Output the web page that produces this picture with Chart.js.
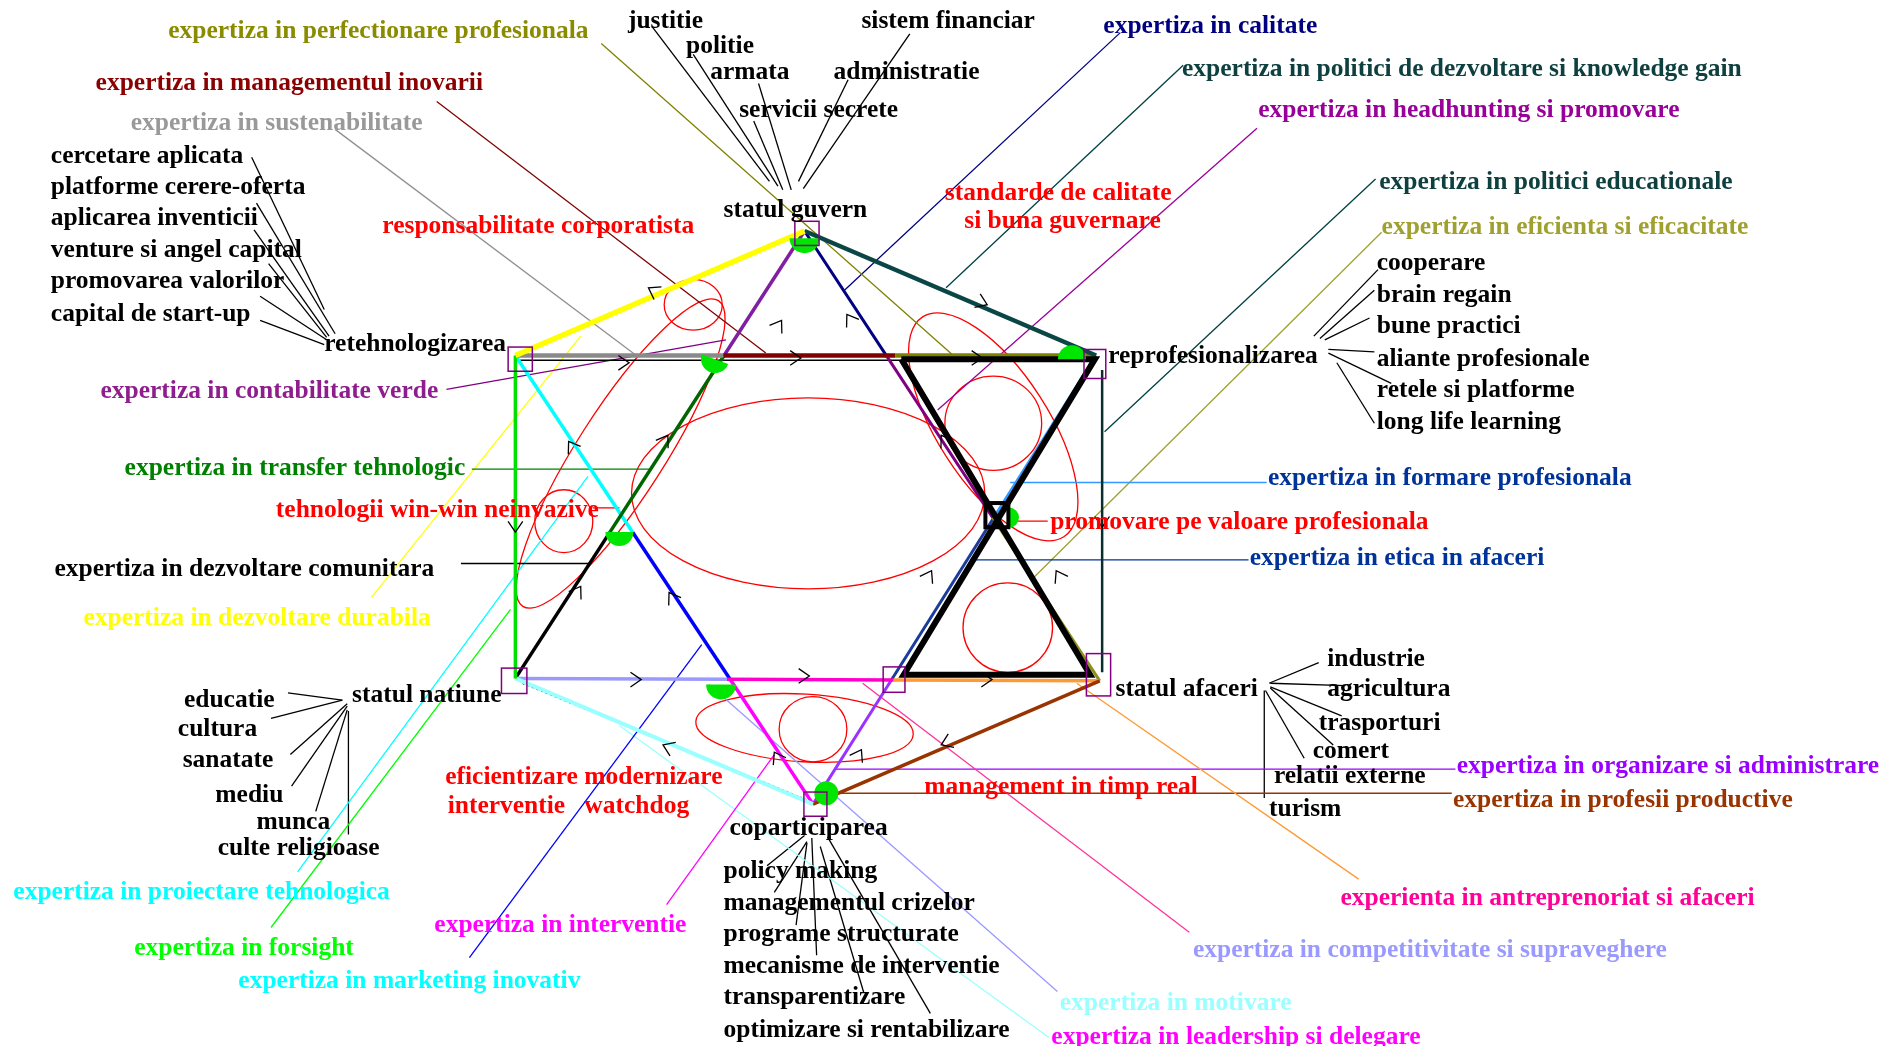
<!DOCTYPE html>
<html lang="ro">
<head>
<meta charset="UTF-8">
<title>Statul guvern - diagrama expertizelor</title>
<script src="https://cdn.jsdelivr.net/npm/chart.js"></script>
<style>
  html, body { margin: 0; padding: 0; background: #fff; }
  #wrap { width: 1897px; height: 1046px; position: relative; }
</style>
</head>
<body>
<div id="wrap"><canvas id="diagram"></canvas></div>
<script>
// drawing units (the original sketch was 1568 x 865)
const W = 1568, H = 865;

// main nodes of the hexagon
const nodes = {
  guvern: [665, 191],
  retehn: [426, 294],
  reprof: [906, 294],
  natiune: [426, 561],
  afaceri: [909, 563],
  copart: [672, 665]
};

// edges: from, to (node name or point), colour runs [end fraction, colour], width
const edges = [
  ['guvern', 'retehn', [[1, '#ffff00']], 5.5],
  ['guvern', 'reprof', [[1, '#0b4646']], 4.5],
  ['retehn', 'natiune', [[1, '#00e000']], 3.5],
  [[911, 306], [911, 556], [[1, '#0a2e2e']], 2.5],
  ['natiune', 'copart', [[1, '#99ffff']], 4],
  ['afaceri', 'copart', [[1, '#993300']], 3.5],
  ['retehn', 'reprof', [[0.358, '#8a8a8a'], [0.654, '#800000'], [1, '#808000']], 4.5],
  ['natiune', 'afaceri', [[0.362, '#9999ff'], [0.647, '#ff00cc'], [1, '#ff9933']], 3.5],
  ['guvern', 'natiune', [[0.28, '#8020a0'], [0.673, '#006400'], [1, '#000000']], 3.5],
  ['guvern', 'afaceri', [[0.28, '#000080'], [0.637, '#800080'], [1, '#909020']], 3],
  ['retehn', 'copart', [[0.394, '#00ffff'], [0.722, '#0000ff'], [1, '#ff00ff']], 3.5],
  ['reprof', 'copart', [[0.361, '#3399ff'], [0.722, '#1a3c9c'], [1, '#9933ff']], 3]
];

// black hourglass around "promovare pe valoare profesionala"
const hourglass = [[745, 297], [905, 297], [747, 558], [901, 558], [745, 297]];

// thin extra strokes along edges
const thinEdges = [
  [[430, 298], [745, 298], '#000000', 1.5, []],
  [[432, 565], [668, 662], '#000000', 1.5, [2, 3]]
];

// expertise leader lines: start, end, colour
const expertLines = [
  [[497, 36], [788, 294], '#808000'],
  [[361, 84], [633, 292], '#800000'],
  [[277, 107], [526, 294], '#909090'],
  [[369, 322], [600, 281], '#800080'],
  [[390, 388], [538, 388], '#008000'],
  [[381, 466], [487, 466], '#000000'],
  [[480, 278], [307, 494], '#ffff00'],
  [[486, 394], [246, 721], '#00ffff'],
  [[422, 504], [224, 767], '#00ff00'],
  [[580, 533], [388, 792], '#0000ff'],
  [[640, 624], [551, 748], '#ff00ff'],
  [[586, 566], [874, 820], '#9999ff'],
  [[512, 600], [867, 858], '#99ffff'],
  [[713, 565], [983, 771], '#ff3399'],
  [[890, 565], [1123, 727], '#ff9933'],
  [[690, 656], [1200, 656], '#993300'],
  [[690, 636], [1203, 636], '#9900ff'],
  [[802, 463], [1032, 463], '#003399'],
  [[835, 399], [1047, 399], '#3399ff'],
  [[1142, 192], [852, 480], '#a0a030'],
  [[1137, 148], [913, 357], '#004040'],
  [[1039, 106], [775, 339], '#990099'],
  [[978, 54], [782, 238], '#004040'],
  [[926, 27], [698, 240], '#000080'],
  [[866, 431], [838, 431], '#ff0000'],
  [[490, 420], [512, 420], '#ff0000']
];

// topic fans (black): start, end
const topicLines = [
  [[539, 22], [636, 150]], [[573, 45], [643, 154]], [[627, 69], [654, 157]],
  [[623, 100], [647, 157]], [[701, 66], [660, 150]], [[752, 28], [664, 156]],
  [[208, 130], [268, 256]], [[212, 168], [277, 276]], [[210, 190], [272, 278]],
  [[222, 218], [270, 279]], [[215, 245], [270, 281]], [[215, 265], [268, 285]],
  [[1139, 223], [1086, 278]], [[1136, 240], [1091, 280]], [[1132, 263], [1095, 281]],
  [[1136, 291], [1098, 289]], [[1150, 317], [1098, 292]], [[1136, 350], [1105, 300]],
  [[238, 573], [283, 579]], [[224, 594], [283, 579]], [[240, 624], [287, 582]],
  [[241, 650], [287, 584]], [[261, 671], [287, 587]], [[288, 588], [288, 690]],
  [[1090, 548], [1049, 565]], [[1112, 567], [1050, 565]], [[1109, 592], [1050, 568]],
  [[1102, 616], [1050, 569]], [[1078, 627], [1046, 571]], [[1045, 571], [1045, 660]],
  [[634, 716], [665, 691]], [[640, 738], [667, 696]], [[658, 765], [667, 697]],
  [[675, 790], [671, 693]], [[714, 821], [678, 700]], [[769, 838], [684, 692]]
];

// red loops: centre x, centre y, radius x, radius y, rotation (rad)
const loops = [
  [668, 408, 146, 79, 0],
  [821, 350, 40, 39, 0],
  [833, 519, 37, 37, 0],
  [466, 431, 24, 26, 0],
  [573, 252, 24, 21, 0],
  [672, 603, 28, 27, 0],
  [665, 602, 90, 28, 0.06],
  [513, 375, 150, 36, 2.14],
  [821, 353, 108, 46, 1.0]
];

// green blobs at the junctions: x, y, radius (px), start and end angle (deg)
const blobs = [
  [665, 197, 15, 0, 180], [591, 297, 14, 20, 200], [512, 440, 14, 0, 180],
  [886, 297, 14, 180, 360], [596, 566, 15, 0, 180], [683, 656, 12, 0, 360],
  [834, 428, 10, -90, 90]
];

// node boxes: centre x, centre y, width, height, colour
const boxes = [
  [667, 193, 20, 20, '#800080'], [430, 297, 20, 20, '#800080'],
  [905, 301, 18, 24, '#800080'], [425, 563, 21, 21, '#800080'],
  [908, 558, 20, 35, '#800080'], [674, 665, 19, 20, '#800080'],
  [739, 562, 18, 21, '#800080'], [824, 426, 19, 20, '#000000']
];

// direction arrows along the edges: tip x, tip y, heading in degrees
const arrows = [
  [536, 238, -150], [646, 265, -57], [700, 260, -123], [816, 252, 23],
  [662, 296, 0], [520, 300, 0], [812, 296, 0], [470, 365, -123],
  [552, 360, -57], [778, 360, -123], [426, 440, 90], [911, 436, 90],
  [480, 485, -57], [553, 490, -123], [530, 562, 0], [669, 559, 0],
  [820, 562, 0], [548, 616, -157], [778, 616, 157], [640, 622, -120],
  [712, 620, -60], [770, 472, -60], [873, 472, -120]
];

// black topic labels: text, left x, middle y
const topicLabels = [
  ['justitie', 519, 16], ['politie', 567, 36], ['armata', 587, 58],
  ['sistem financiar', 712, 16], ['administratie', 689, 58], ['servicii secrete', 611, 89],
  ['statul guvern', 598, 172],
  ['cercetare aplicata', 42, 127], ['platforme cerere-oferta', 42, 153],
  ['aplicarea inventicii', 42, 179], ['venture si angel capital', 42, 205],
  ['promovarea valorilor', 42, 231], ['capital de start-up', 42, 258],
  ['retehnologizarea', 268, 283],
  ['cooperare', 1138, 216], ['brain regain', 1138, 242], ['bune practici', 1138, 268],
  ['reprofesionalizarea', 916, 293], ['aliante profesionale', 1138, 295],
  ['retele si platforme', 1138, 321], ['long life learning', 1138, 347],
  ['educatie', 152, 577], ['statul natiune', 291, 573], ['cultura', 147, 601],
  ['sanatate', 151, 627], ['mediu', 178, 656], ['munca', 212, 678],
  ['culte religioase', 180, 700],
  ['industrie', 1097, 543], ['statul afaceri', 922, 568], ['agricultura', 1097, 568],
  ['trasporturi', 1090, 596], ['comert', 1085, 619], ['relatii externe', 1053, 640],
  ['turism', 1049, 667],
  ['coparticiparea', 603, 683], ['policy making', 598, 719],
  ['managementul crizelor', 598, 745], ['programe structurate', 598, 771],
  ['mecanisme de interventie', 598, 797], ['transparentizare', 598, 823],
  ['optimizare si rentabilizare', 598, 850],
  ['expertiza in dezvoltare comunitara', 45, 469]
];

// coloured expertise labels: text, left x, middle y, colour
const expertLabels = [
  ['expertiza in perfectionare profesionala', 139, 24, '#8b8b00'],
  ['expertiza in managementul inovarii', 79, 67, '#8b0000'],
  ['expertiza in sustenabilitate', 108, 100, '#999999'],
  ['expertiza in contabilitate verde', 83, 322, '#8e1e8e'],
  ['expertiza in transfer tehnologic', 103, 385, '#008000'],
  ['expertiza in dezvoltare durabila', 69, 509, '#ffff00'],
  ['expertiza in proiectare tehnologica', 11, 736, '#00ffff'],
  ['expertiza in forsight', 111, 782, '#00ff00'],
  ['expertiza in marketing inovativ', 197, 810, '#00ffff'],
  ['expertiza in interventie', 359, 763, '#ff00ff'],
  ['expertiza in calitate', 912, 20, '#000080'],
  ['expertiza in politici de dezvoltare si knowledge gain', 977, 55, '#0f4040'],
  ['expertiza in headhunting si promovare', 1040, 89, '#990099'],
  ['expertiza in politici educationale', 1140, 149, '#0f4040'],
  ['expertiza in eficienta si eficacitate', 1142, 186, '#a0a030'],
  ['expertiza in formare profesionala', 1048, 394, '#003399'],
  ['expertiza in etica in afaceri', 1033, 460, '#003399'],
  ['expertiza in organizare si administrare', 1204, 632, '#9900ff'],
  ['expertiza in profesii productive', 1201, 660, '#993300'],
  ['experienta in antreprenoriat si afaceri', 1108, 741, '#ff0099'],
  ['expertiza in competitivitate si supraveghere', 986, 784, '#9999ff'],
  ['expertiza in motivare', 876, 828, '#99ffff'],
  ['expertiza in leadership si delegare', 869, 856, '#ff00ff']
];

// red notes
const redLabels = [
  ['responsabilitate corporatista', 316, 185],
  ['standarde de calitate', 781, 158],
  ['si buna guvernare', 797, 181],
  ['tehnologii win-win neinvazive', 228, 420],
  ['promovare pe valoare profesionala', 868, 430],
  ['eficientizare modernizare', 368, 641],
  ['interventie   watchdog', 370, 665],
  ['management in timp real', 764, 649]
];

function pt(p) { return { x: p[0], y: p[1] }; }
function at(n) { return typeof n === 'string' ? nodes[n] : n; }
function along(a, b, t) { return [a[0] + (b[0] - a[0]) * t, a[1] + (b[1] - a[1]) * t]; }
function lineSet(points, color, width, dash) {
  return {
    data: points.map(pt), showLine: true, borderColor: color, borderWidth: width,
    borderDash: dash || [], pointRadius: 0, fill: false, tension: 0
  };
}

const datasets = [];
datasets.push(lineSet(hourglass, '#000000', 6));
edges.forEach(([f, t, runs, w]) => {
  const a = at(f), b = at(t);
  let start = 0;
  runs.forEach(([end, color]) => {
    datasets.push(lineSet([along(a, b, start), along(a, b, end)], color, w));
    start = end;
  });
});
thinEdges.forEach(([a, b, c, w, d]) => datasets.push(lineSet([a, b], c, w, d)));
expertLines.forEach(([a, b, c]) => datasets.push(lineSet([a, b], c, 1.3)));
topicLines.forEach(([a, b]) => datasets.push(lineSet([a, b], '#000000', 1.3)));

const extras = {
  id: 'extras',
  beforeDatasetsDraw(chart) {
    const { ctx, scales: { x, y } } = chart;
    ctx.save();
    ctx.strokeStyle = '#ff0000';
    ctx.lineWidth = 1.3;
    loops.forEach(([cx, cy, rx, ry, rot]) => {
      ctx.beginPath();
      ctx.ellipse(x.getPixelForValue(cx), y.getPixelForValue(cy),
        Math.abs(x.getPixelForValue(cx + rx) - x.getPixelForValue(cx)),
        Math.abs(y.getPixelForValue(cy + ry) - y.getPixelForValue(cy)),
        rot, 0, Math.PI * 2);
      ctx.stroke();
    });
    ctx.restore();
  },
  afterDatasetsDraw(chart) {
    const { ctx, scales: { x, y } } = chart;
    ctx.save();
    ctx.fillStyle = '#00e600';
    blobs.forEach(([bx, by, r, a0, a1]) => {
      const cx = x.getPixelForValue(bx), cy = y.getPixelForValue(by);
      ctx.beginPath();
      ctx.moveTo(cx, cy);
      ctx.arc(cx, cy, r, a0 * Math.PI / 180, a1 * Math.PI / 180);
      ctx.closePath();
      ctx.fill();
    });
    boxes.forEach(([cx, cy, w, h, c]) => {
      const l = x.getPixelForValue(cx - w / 2), r = x.getPixelForValue(cx + w / 2);
      const t = y.getPixelForValue(cy - h / 2), b = y.getPixelForValue(cy + h / 2);
      ctx.strokeStyle = c;
      ctx.lineWidth = c === '#000000' ? 4 : 1.5;
      ctx.strokeRect(l, t, r - l, b - t);
    });
    ctx.strokeStyle = '#000000';
    ctx.lineWidth = 1.3;
    arrows.forEach(([ax, ay, deg]) => {
      const a = deg * Math.PI / 180, L = 13, s = 0.6;
      const tx = x.getPixelForValue(ax), ty = y.getPixelForValue(ay);
      ctx.beginPath();
      ctx.moveTo(tx - L * Math.cos(a - s), ty - L * Math.sin(a - s));
      ctx.lineTo(tx, ty);
      ctx.lineTo(tx - L * Math.cos(a + s), ty - L * Math.sin(a + s));
      ctx.stroke();
    });
    ctx.font = 'bold 25.5px "Liberation Serif", "Times New Roman", serif';
    ctx.textBaseline = 'alphabetic';
    ctx.textAlign = 'left';
    const put = (txt, lx, ly, c) => {
      ctx.fillStyle = c;
      ctx.fillText(txt, x.getPixelForValue(lx), y.getPixelForValue(ly) + 9);
    };
    topicLabels.forEach(([s, lx, ly]) => put(s, lx, ly, '#000000'));
    expertLabels.forEach(([s, lx, ly, c]) => put(s, lx, ly, c));
    redLabels.forEach(([s, lx, ly]) => put(s, lx, ly, '#ff0000'));
    ctx.restore();
  }
};

new Chart(document.getElementById('diagram'), {
  type: 'scatter',
  data: { datasets },
  options: {
    responsive: true,
    maintainAspectRatio: false,
    animation: false,
    events: [],
    layout: { padding: 0, autoPadding: false },
    scales: {
      x: { type: 'linear', min: 0, max: W, display: false },
      y: { type: 'linear', min: 0, max: H, reverse: true, display: false }
    },
    plugins: { legend: { display: false }, tooltip: { enabled: false } }
  },
  plugins: [extras]
});
</script>
</body>
</html>
